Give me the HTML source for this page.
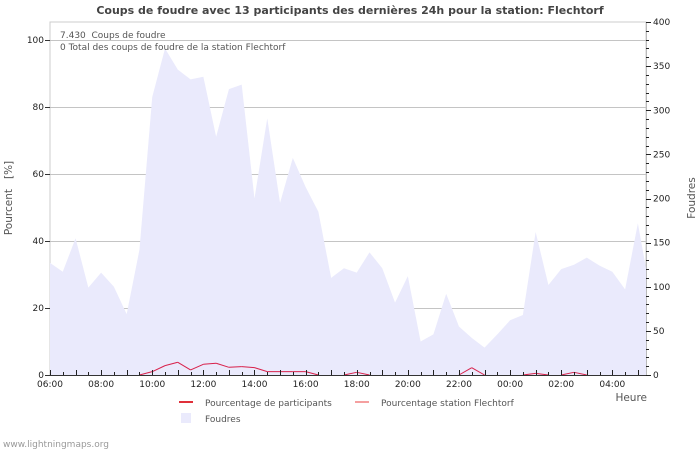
<!DOCTYPE html>
<html><head><meta charset="utf-8"><style>
html,body{margin:0;padding:0;background:#fff;}
svg{display:block;font-family:"DejaVu Sans","Liberation Sans",sans-serif;}
</style></head><body>
<svg id="chart" width="700" height="450" viewBox="0 0 700 450">
<text x="350" y="14" text-anchor="middle" font-size="11" font-weight="bold" fill="#444">Coups de foudre avec 13 participants des dernières 24h pour la station: Flechtorf</text>
<g id="grid"></g>
<g id="area"></g>
<g id="lines"></g>
<g id="axes"></g>
<text x="60" y="38" font-size="9" fill="#555" xml:space="preserve">7.430  Coups de foudre</text>
<text x="60" y="50" font-size="9" fill="#555">0 Total des coups de foudre de la station Flechtorf</text>
<text transform="translate(12,198) rotate(-90)" text-anchor="middle" font-size="10.5" fill="#555" xml:space="preserve" style="white-space:pre">Pourcent   [%]</text>
<text transform="translate(695,198) rotate(-90)" text-anchor="middle" font-size="10.5" fill="#555">Foudres</text>
<text x="647" y="401" text-anchor="end" font-size="10.5" fill="#555">Heure</text>
<g><rect x="179" y="401" width="14" height="2" fill="#e0303a"/><text x="205" y="406" font-size="9" fill="#555">Pourcentage de participants</text></g>
<g><rect x="355" y="401" width="14" height="2" fill="#f5a0a0"/><text x="381" y="406" font-size="9" fill="#555">Pourcentage station Flechtorf</text></g>
<g><rect x="181" y="413" width="10" height="10" fill="#eaeafc"/><text x="205" y="422" font-size="9" fill="#555">Foudres</text></g>
<text x="3" y="447" font-size="9" fill="#999">www.lightningmaps.org</text>
</svg>
<script>
const hourLabels = ["06:00","08:00","10:00","12:00","14:00","16:00","18:00","20:00","22:00","00:00","02:00","04:00"];
const leftTicks = [0,20,40,60,80,100];
const rightTicks = [0,50,100,150,200,250,300,350,400];
const strokes = [127,117,155,99,116,100,69,142,315,370,346,335,338,270,324,329,200,291,195,246,213,185,110,121,116,139,121,82,112,38,46,92,55,42,31,46,62,68,162,102,120,125,133,124,117,97,172,121];
const participants = [0,0,0,0,0,0,0,0,1.0,2.8,3.8,1.5,3.2,3.5,2.3,2.5,2.2,1.0,1.0,1.0,1.0,0,0,0,0.8,0,0,0,0,0,0,0,0,2.2,0,0,0,0,0.5,0,0,0.8,0,0,0,0,0,0];
const stationPct = participants.map(()=>0);

const NS="http://www.w3.org/2000/svg";
const X0=50,X1=646,Y0=375,YT=22;
const pxPerHalf=12.78;
const xAt=i=>X0+i*pxPerHalf;
const yL=v=>Y0-v*3.35;
const yR=v=>Y0-v*(Y0-YT)/400;
function mk(tag,attrs,parent){const e=document.createElementNS(NS,tag);for(const k in attrs)e.setAttribute(k,attrs[k]);parent.appendChild(e);return e;}
const grid=document.getElementById('grid'),area=document.getElementById('area'),lines=document.getElementById('lines'),axes=document.getElementById('axes');

mk('rect',{x:X0,y:YT,width:X1-X0,height:Y0-YT,fill:'none',stroke:'#ccc','stroke-width':1},grid);
leftTicks.forEach(v=>{
  if(v>0){const l=mk('line',{x1:X0,x2:X1,y1:yL(v)+.5,y2:yL(v)+.5,stroke:'#c4c4c4'},grid);
  
  }
  mk('line',{x1:X0-5,x2:X0,y1:yL(v)+.5,y2:yL(v)+.5,stroke:'#333'},axes);
  const t=mk('text',{x:X0-6,y:yL(v)+3,'text-anchor':'end','font-size':9,fill:'#222'},axes);t.textContent=v;
  
  
});
let d='M'+xAt(0)+','+Y0;
strokes.forEach((v,i)=>{d+=' L'+Math.min(xAt(i),X1)+','+yR(v);});
d+=' L'+Math.min(xAt(strokes.length-1),X1)+','+Y0+' Z';
const a=mk('path',{d:d,fill:'#eaeafc'},area);


function drawLine(arr,color,name){
  for(let i=0;i<arr.length-1;i++){
    if(arr[i]===0&&arr[i+1]===0)continue;
    const s=mk('line',{x1:xAt(i),y1:yL(arr[i]),x2:xAt(i+1),y2:yL(arr[i+1]),stroke:color,'stroke-width':1},lines);
    
    
  }
}
drawLine(stationPct,'#f5a0a0','station-line-segment');
drawLine(participants,'#d8204a','participants-line-segment');
mk('line',{x1:X0,x2:X1,y1:Y0+.5,y2:Y0+.5,stroke:'#333'},axes);
mk('line',{x1:X1+.5,x2:X1+.5,y1:YT,y2:Y0,stroke:'#bbb'},axes);
for(let i=0;i<47;i++){
  const x=Math.round(xAt(i))+.5;
  mk('line',{x1:x,x2:x,y1:i%2==0?Y0-5:Y0-3,y2:Y0,stroke:'#222'},axes);
}
hourLabels.forEach((lab,k)=>{
  const t=mk('text',{x:xAt(k*4),y:Y0+12,'text-anchor':'middle','font-size':9,fill:'#222'},axes);t.textContent=lab;
  
  
});
for(let v=0;v<=400;v+=10){
  const y=Math.round(yR(v))+.5;
  mk('line',{x1:X1,x2:X1+(v%50==0?5:3),y1:y,y2:y,stroke:'#222'},axes);
}
rightTicks.forEach(v=>{
  const t=mk('text',{x:X1+7,y:yR(v)+3,'font-size':9,fill:'#222'},axes);t.textContent=v;
  
  
});
</script>
</body></html>
